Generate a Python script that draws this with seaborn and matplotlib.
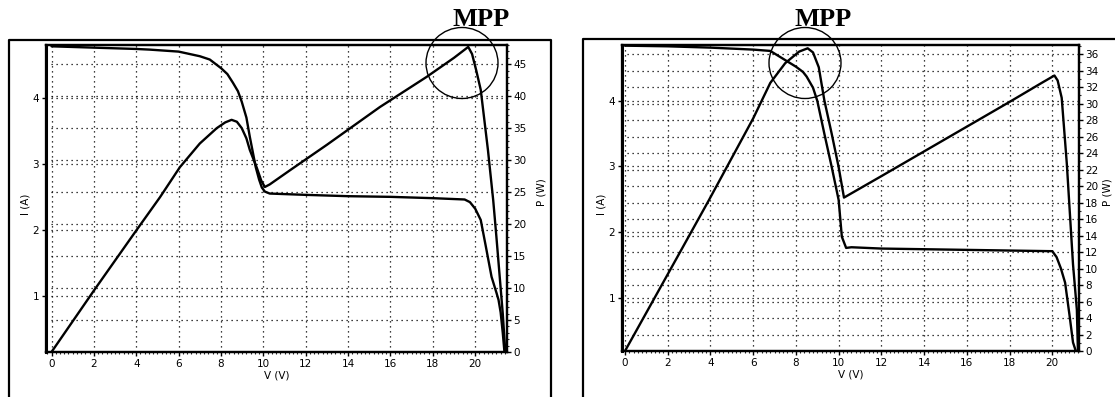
import matplotlib
matplotlib.use("Agg")
import matplotlib.pyplot as plt
from matplotlib.lines import Line2D
from matplotlib.patches import Ellipse
from matplotlib.ticker import MultipleLocator
import seaborn as sns

# left panel: I-V curve and P-V curve
v_i_left = [0.0, 2.0, 4.0, 4.64, 6.0, 7.0, 7.47, 8.0, 8.3, 8.56, 8.8, 8.98, 9.2, 9.36, 9.5,
            9.64, 9.8, 9.93, 10.07, 10.3, 12.0, 14.0, 16.0, 18.0, 19.5, 19.75, 20.0, 20.26,
            20.5, 20.77, 21.0, 21.1, 21.2, 21.3, 21.38]
i_left = [4.78, 4.76, 4.74, 4.73, 4.70, 4.63, 4.58, 4.45, 4.36, 4.23, 4.10, 3.94, 3.70, 3.41, 3.18,
          2.95, 2.76, 2.64, 2.58, 2.55, 2.53, 2.51, 2.50, 2.48, 2.46, 2.42, 2.32, 2.15,
          1.75, 1.29, 1.05, 0.94, 0.75, 0.44, 0.15]
v_p_left = [0.0, 2.0, 4.0, 5.12, 6.06, 7.0, 7.8, 8.2, 8.5, 8.75, 8.98, 9.2, 9.36, 9.69, 9.9,
            10.07, 10.3, 11.25, 13.0, 15.5, 17.7, 19.0, 19.67, 19.85, 20.05, 20.26, 20.6,
            20.85, 21.0, 21.15, 21.3, 21.42]
p_left = [0.0, 9.6, 19.0, 24.2, 28.9, 32.6, 35.0, 35.9, 36.3, 36.0, 35.0, 33.4, 31.6, 28.8, 26.8,
          25.8, 26.2, 28.4, 32.4, 38.3, 43.0, 46.0, 47.7, 46.6, 44.0, 41.0, 31.6,
          23.7, 18.0, 12.0, 6.0, 0.0]

# right panel: I-V curve and P-V curve
v_i_right = [0.0, 2.0, 4.0, 6.0, 6.8, 7.5, 8.0, 8.33, 8.5, 8.8, 9.0, 9.33, 9.67, 10.0, 10.15,
             10.35, 10.6, 12.0, 14.0, 16.0, 18.0, 20.0, 20.2, 20.4, 20.6, 20.8, 20.97, 21.1]
i_right = [4.84, 4.83, 4.81, 4.78, 4.76, 4.62, 4.52, 4.44, 4.37, 4.20, 4.00, 3.50, 3.00, 2.49, 1.93,
           1.76, 1.77, 1.75, 1.74, 1.73, 1.72, 1.71, 1.62, 1.45, 1.23, 0.75, 0.32, 0.19]
v_p_right = [0.0, 2.0, 3.93, 6.0, 6.8, 7.5, 8.15, 8.55, 8.8, 9.07, 9.33, 9.67, 10.0, 10.25,
             12.0, 14.0, 16.0, 18.0, 19.5, 20.1, 20.25, 20.44, 20.68, 20.97, 21.15, 21.2]
p_right = [0.0, 9.3, 18.3, 28.2, 32.5, 34.9, 36.3, 36.7, 36.2, 34.4, 30.4, 26.4, 22.3, 18.6,
           21.2, 24.2, 27.2, 30.2, 32.5, 33.4, 32.8, 30.7, 22.7, 10.5, 5.0, 0.0]

v_ticks = list(range(0, 21, 2))
i_ticks = [1, 2, 3, 4]

W, H = 1115, 397

sns.set_style("ticks")
plt.rcParams["font.family"] = ["DejaVu Sans"]
plt.rcParams["text.color"] = "black"
plt.rcParams["axes.labelcolor"] = "black"

fig = plt.figure(figsize=(W / 100, H / 100), dpi=100)


def fx(px):
    return px / W


def fy(py):
    return 1 - py / H


dots = (0, (1, 3))


def panel(box, v_i, i_vals, v_p, p_vals, xlim, ilim, plim, p_ticks, label_x):
    x0, y0, x1, y1 = box
    ax = fig.add_axes([fx(x0), fy(y1), (x1 - x0) / W, (y1 - y0) / H])
    ax2 = ax.twinx()

    sns.lineplot(x=v_i, y=i_vals, ax=ax, color="black", lw=1.7, sort=False, estimator=None)
    sns.lineplot(x=v_p, y=p_vals, ax=ax2, color="black", lw=1.7, sort=False, estimator=None)

    ax.set_xlim(*xlim)
    ax.set_ylim(*ilim)
    ax2.set_ylim(*plim)
    ax.set_xticks(v_ticks)
    ax.set_yticks(i_ticks)
    ax2.set_yticks(p_ticks)
    ax.xaxis.set_minor_locator(MultipleLocator(0.2))
    ax2.yaxis.set_minor_locator(MultipleLocator(1))

    ax.grid(True, which="major", axis="both", color="black", ls=dots, lw=0.9)
    ax2.grid(True, which="major", axis="y", color="black", ls=dots, lw=0.9)

    ax.tick_params(axis="both", which="major", direction="out", length=3, width=1,
                   labelsize=7.5, pad=2, colors="black")
    ax.tick_params(axis="x", which="minor", direction="out", length=1.5, width=0.8)
    ax2.tick_params(axis="y", which="major", direction="out", length=3, width=1,
                    labelsize=7.5, pad=1.5, colors="black")
    ax2.tick_params(axis="y", which="minor", direction="out", length=1.5, width=0.8)

    for sp in list(ax.spines.values()) + list(ax2.spines.values()):
        sp.set_linewidth(1.6)
        sp.set_color("black")
    ax.spines["left"].set_linewidth(2.2)

    ax.set_xlabel("V (V)", fontsize=7.5, labelpad=1)
    ax.set_ylabel("I (A)", fontsize=7.5)
    ax2.set_ylabel("P (W)", fontsize=7.5)
    ax.yaxis.set_label_coords(label_x[0], 0.48)
    ax2.yaxis.set_label_coords(label_x[1], 0.52)
    return ax, ax2


panel((46, 45, 507, 352), v_i_left, i_left, v_p_left, p_left,
      (-0.26, 21.5), (0.15, 4.80), (0, 48), list(range(0, 46, 5)), (-0.033, 1.063))
panel((622, 45, 1079, 351), v_i_right, i_right, v_p_right, p_right,
      (-0.14, 21.25), (0.19, 4.85), (0, 37.1), list(range(0, 37, 2)), (-0.035, 1.052))

# outer frames around each panel
frames = [
    [(9, 397), (9, 40), (551, 40), (551, 397)],
    [(583, 397), (583, 39), (1115, 39)],
]
for pts in frames:
    fig.add_artist(Line2D([fx(p[0]) for p in pts], [fy(p[1]) for p in pts],
                          transform=fig.transFigure, color="black", lw=1.6))

# MPP markers
for cx, tx in [(462, 481), (805, 823)]:
    fig.add_artist(Ellipse((fx(cx), fy(63)), 72 / W, 71 / H, transform=fig.transFigure,
                           fill=False, edgecolor="black", lw=1.0))
    fig.text(fx(tx), fy(20), "MPP", ha="center", va="center", fontsize=19,
             fontweight="bold", family="Liberation Serif", color="black")

fig.savefig("out.png", dpi=100)
